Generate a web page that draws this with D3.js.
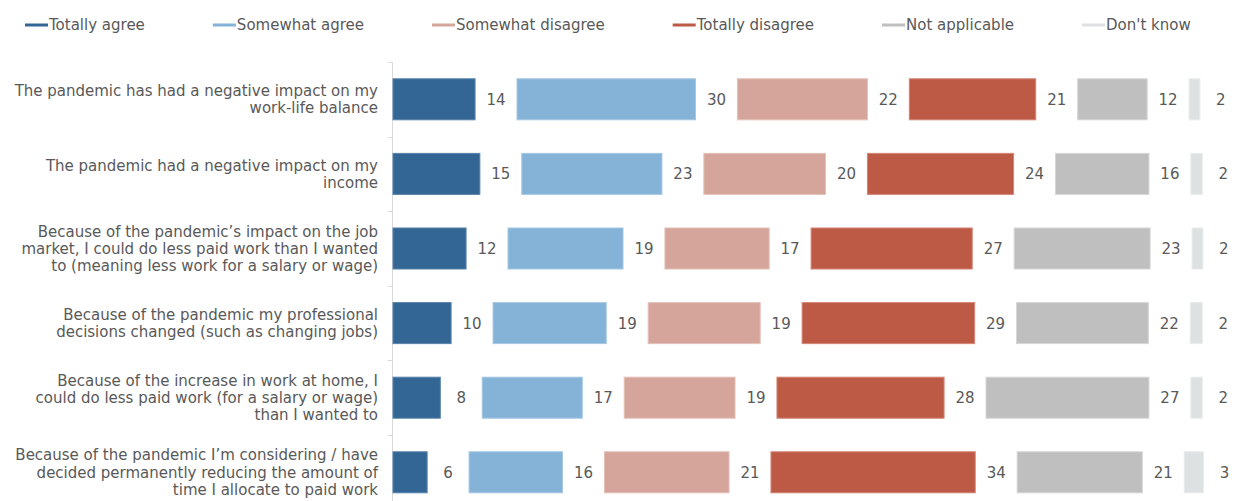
<!DOCTYPE html>
<html>
<head>
<meta charset="utf-8">
<script src="https://cdn.jsdelivr.net/npm/d3@7"></script>
<style>
  html, body { margin: 0; padding: 0; background: #fff; }
  svg { display: block; font-family: "DejaVu Sans", Verdana, sans-serif; }
</style>
</head>
<body>
<svg id="chart" width="1236" height="501"></svg>
<script>
// ---- data (percent; labels shown rounded) ----
const categories = [
  ["The pandemic has had a negative impact on my", "work-life balance"],
  ["The pandemic had a negative impact on my", "income"],
  ["Because of the pandemic\u2019s impact on the job", "market, I could do less paid work than I wanted", "to (meaning less work for a salary or wage)"],
  ["Because of the pandemic my professional", "decisions changed (such as changing jobs)"],
  ["Because of the increase in work at home, I", "could do less paid work (for a salary or wage)", "than I wanted to"],
  ["Because of the pandemic I\u2019m considering / have", "decided permanently reducing the amount of", "time I allocate to paid work"]
];
const seriesNames = ["Totally agree", "Somewhat agree", "Somewhat disagree", "Totally disagree", "Not applicable", "Don't know"];
const totallyAgree     = [13.7, 14.5, 12.2, 9.7, 7.9, 5.7];
const somewhatAgree    = [29.8, 23.4, 19.2, 18.9, 16.7, 15.6];
const somewhatDisagree = [21.7, 20.3, 17.4, 18.7, 18.5, 20.8];
const totallyDisagree  = [21.1, 24.4, 26.9, 28.8, 27.9, 34.1];
const notApplicable    = [11.6, 15.6, 22.7, 22.0, 27.2, 20.9];
const dontKnow         = [1.8, 1.9, 1.8, 2.0, 1.9, 3.2];
const seriesValues = [totallyAgree, somewhatAgree, somewhatDisagree, totallyDisagree, notApplicable, dontKnow];
const colors = ["#336695", "#85b3d7", "#d5a59b", "#bd5a45", "#bfbfbf", "#dde1e1"];
const strokes = ["#5a84ab", "#a6c8e3", "#e3c0b8", "#d38575", "#d6d6d6", "#e8ebeb"];

// ---- layout ----
const svg = d3.select("#chart");
const GAP = 7; // spacer (in value units) holding each value label
const x = d3.scaleLinear().domain([0, 140]).range([393, 393 + 140 * 5.99]);
const y = d3.scaleBand().domain(d3.range(categories.length)).range([62, 509.6]).paddingInner(0.45).paddingOuter(0.225);
const textColor = "#595959";
const FS = 15;

// axis line + boundary ticks
const axisG = svg.append("g").attr("transform", `translate(${x(0) - 0.5},0)`);
axisG.append("line").attr("y1", 62).attr("y2", 509.6).attr("stroke", "#d9d9d9").attr("stroke-width", 1);
const step = y.step();
d3.range(categories.length + 1).forEach(i => {
  const yy = Math.round(62 + i * step) + 0.5;
  axisG.append("line").attr("x1", -5).attr("x2", 0).attr("y1", yy).attr("y2", yy).attr("stroke", "#d9d9d9");
});

// bars with spacers
categories.forEach((cat, i) => {
  let acc = 0;
  seriesValues.forEach((vals, s) => {
    const v = vals[i];
    svg.append("rect")
      .attr("x", x(acc)).attr("y", y(i))
      .attr("width", x(acc + v) - x(acc)).attr("height", y.bandwidth())
      .attr("fill", colors[s]).attr("stroke", strokes[s]).attr("stroke-width", 1);
    svg.append("text")
      .attr("x", x(acc + v + GAP / 2)).attr("y", y(i) + y.bandwidth() / 2)
      .attr("dy", "0.36em").attr("text-anchor", "middle")
      .attr("font-size", FS).attr("fill", textColor).text(Math.round(v));
    acc += v + GAP;
  });
  // category label
  const lh = 17.3;
  const cy = y(i) + y.bandwidth() / 2;
  const n = cat.length;
  const t = svg.append("text").attr("text-anchor", "end").attr("font-size", FS).attr("fill", textColor);
  cat.forEach((line, k) => {
    t.append("tspan").attr("x", 378).attr("y", cy + (k - (n - 1) / 2) * lh).attr("dy", "0.36em").text(line);
  });
});

// legend
let lx = 25;
seriesNames.forEach((name, s) => {
  svg.append("line").attr("x1", lx).attr("x2", lx + 23).attr("y1", 25).attr("y2", 25)
    .attr("stroke", colors[s]).attr("stroke-width", 3);
  const tt = svg.append("text").attr("x", lx + 24).attr("y", 25).attr("dy", "0.36em")
    .attr("font-size", FS).attr("fill", textColor).text(name);
  lx += 24 + tt.node().getComputedTextLength() + 68;
});
</script>
</body>
</html>
